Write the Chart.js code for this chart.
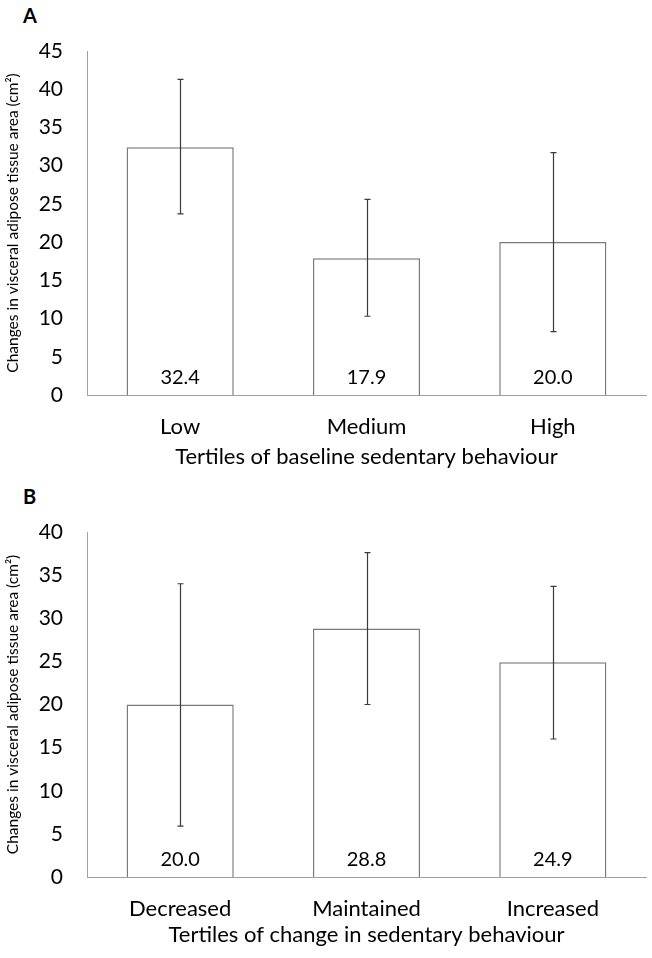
<!DOCTYPE html>
<html>
<head>
<meta charset="utf-8">
<script src="https://cdn.jsdelivr.net/npm/chart.js@4"></script>
<style>
  html, body { margin: 0; padding: 0; background: #ffffff; }
  #wrap { position: relative; width: 652px; height: 958px; }
  canvas { position: absolute; left: 0; }
  .panel { position: absolute; left: 23px; font-family: Lato, "Open Sans", sans-serif; font-weight: bold; font-size: 20px; color: #000; line-height: 1; }
</style>
</head>
<body>
<div id="wrap">
  <div class="panel" style="top:5px;">A</div>
  <canvas id="cA" width="652" height="470" style="top:0px;"></canvas>
  <div class="panel" style="top:486px;">B</div>
  <canvas id="cB" width="652" height="488" style="top:470px;"></canvas>
</div>
<script>
// ---- Data ----
const categoriesA = ["Low", "Medium", "High"];
const valuesA = [32.4, 17.9, 20.0];
const errLowA = [23.7, 10.3, 8.3];
const errHighA = [41.3, 25.6, 31.7];
const xTitleA = "Tertiles of baseline sedentary behaviour";
const yMaxA = 45;

const categoriesB = ["Decreased", "Maintained", "Increased"];
const valuesB = [20.0, 28.8, 24.9];
const errLowB = [5.9, 20.0, 16.0];
const errHighB = [34.0, 37.6, 33.7];
const xTitleB = "Tertiles of change in sedentary behaviour";
const yMaxB = 40;

const yTitle = "Changes in visceral adipose tissue area (cm²)";
const yStep = 5;

const FONT = 'Lato, "Open Sans", sans-serif';

const errorBarPlugin = {
  id: 'errorBars',
  afterDatasetsDraw(chart, args, opts) {
    const ctx = chart.ctx;
    const meta = chart.getDatasetMeta(0);
    const ys = chart.scales.y;
    ctx.save();
    ctx.strokeStyle = '#3a3a3a';
    ctx.lineWidth = 1.2;
    meta.data.forEach((bar, i) => {
      const x = Math.round(bar.x) + 0.5;
      const y1 = ys.getPixelForValue(opts.low[i]);
      const y2 = ys.getPixelForValue(opts.high[i]);
      ctx.beginPath();
      ctx.moveTo(x, y1); ctx.lineTo(x, y2);
      ctx.moveTo(x - 3, y1); ctx.lineTo(x + 3, y1);
      ctx.moveTo(x - 3, y2); ctx.lineTo(x + 3, y2);
      ctx.stroke();
    });
    // value labels inside bars
    const vals = chart.data.datasets[0].data;
    const y0 = ys.getPixelForValue(0);
    ctx.fillStyle = '#000';
    ctx.font = '20px ' + FONT;
    ctx.textAlign = 'center';
    ctx.textBaseline = 'middle';
    meta.data.forEach((bar, i) => {
      ctx.fillText(vals[i].toFixed(1), bar.x, y0 - 17);
    });
    ctx.restore();
  }
};

function makeChart(id, cats, vals, lo, hi, xTitle, yMax, padTop, xHeight, titleBottomPad) {
  return new Chart(document.getElementById(id), {
    type: 'bar',
    data: {
      labels: cats,
      datasets: [{
        data: vals,
        backgroundColor: '#ffffff',
        borderColor: '#7a7a7a',
        borderWidth: 1.5,
        barPercentage: 0.575,
        categoryPercentage: 1.0
      }]
    },
    plugins: [errorBarPlugin],
    options: {
      responsive: false,
      animation: false,
      devicePixelRatio: 1,
      layout: { padding: { top: padTop, right: 6, left: 0, bottom: 0 } },
      plugins: {
        legend: { display: false },
        tooltip: { enabled: false },
        errorBars: { low: lo, high: hi }
      },
      scales: {
        x: {
          grid: { display: false, drawTicks: false },
          border: { display: true, color: '#a0a0a0', width: 1 },
          ticks: { color: '#000', font: { family: FONT, size: 22 }, padding: 19 },
          title: { display: true, text: xTitle, color: '#000', font: { family: FONT, size: 22 }, padding: { top: 0, bottom: titleBottomPad } },
          afterFit: (s) => { s.height = xHeight; }
        },
        y: {
          min: 0, max: yMax,
          grid: { display: false, drawTicks: false },
          border: { display: true, color: '#a0a0a0', width: 1 },
          ticks: { stepSize: yStep, color: '#000', font: { family: FONT, size: 21 }, padding: 24 },
          title: { display: true, text: yTitle, color: '#000', font: { family: FONT, size: 15.5 }, padding: { top: 4, bottom: 0 } },
          afterFit: (s) => { s.width = 87; }
        }
      }
    }
  });
}

makeChart('cA', categoriesA, valuesA, errLowA, errHighA, xTitleA, yMaxA, 51, 75, 0);
makeChart('cB', categoriesB, valuesB, errLowB, errHighB, xTitleB, yMaxB, 62, 81, 10);
</script>
</body>
</html>
